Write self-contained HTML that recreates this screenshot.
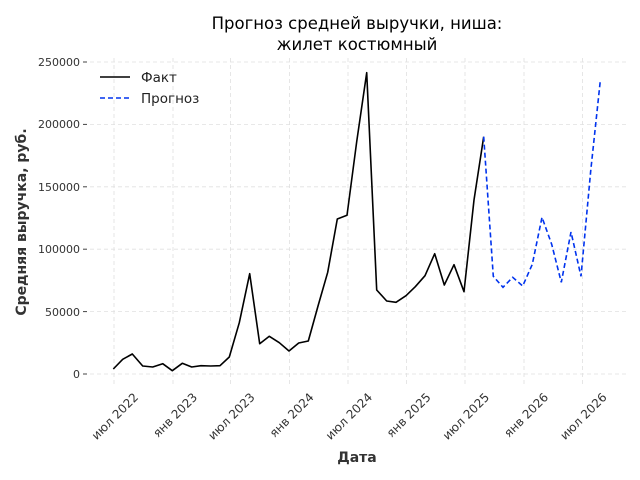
<!DOCTYPE html>
<html><head><meta charset="utf-8"><style>
html,body{margin:0;padding:0;background:#fff;}
svg{display:block;font-family:"DejaVu Sans","Liberation Sans",sans-serif;}
</style></head><body>
<svg width="640" height="480" viewBox="0 0 640 480">
<g stroke="#e0e0e0" stroke-width="0.8" stroke-dasharray="4,3" fill="none">
<line x1="90" x2="626" y1="374" y2="374"/>
<line x1="90" x2="626" y1="311.6" y2="311.6"/>
<line x1="90" x2="626" y1="249.2" y2="249.2"/>
<line x1="90" x2="626" y1="186.8" y2="186.8"/>
<line x1="90" x2="626" y1="124.4" y2="124.4"/>
<line x1="90" x2="626" y1="62" y2="62"/>
<line x1="114" x2="114" y1="58" y2="384"/>
<line x1="173" x2="173" y1="58" y2="384"/>
<line x1="230.5" x2="230.5" y1="58" y2="384"/>
<line x1="289.5" x2="289.5" y1="58" y2="384"/>
<line x1="348" x2="348" y1="58" y2="384"/>
<line x1="406.5" x2="406.5" y1="58" y2="384"/>
<line x1="465" x2="465" y1="58" y2="384"/>
<line x1="524" x2="524" y1="58" y2="384"/>
<line x1="582.5" x2="582.5" y1="58" y2="384"/>
</g>
<g stroke="#444" stroke-width="1">
<line x1="83" x2="87" y1="374" y2="374"/><line x1="83" x2="87" y1="311.6" y2="311.6"/><line x1="83" x2="87" y1="249.2" y2="249.2"/><line x1="83" x2="87" y1="186.8" y2="186.8"/><line x1="83" x2="87" y1="124.4" y2="124.4"/><line x1="83" x2="87" y1="62" y2="62"/>
</g>
<g font-size="11" fill="#333" text-anchor="end">
<text x="80" y="378">0</text><text x="80" y="316">50000</text><text x="80" y="253">100000</text><text x="80" y="191">150000</text><text x="80" y="128">200000</text><text x="80" y="66">250000</text>
</g>
<g font-size="12" fill="#333" text-anchor="end">
<text transform="translate(139,398) rotate(-45)">июл 2022</text>
<text transform="translate(198,398) rotate(-45)">янв 2023</text>
<text transform="translate(255.5,398) rotate(-45)">июл 2023</text>
<text transform="translate(314.5,398) rotate(-45)">янв 2024</text>
<text transform="translate(373,398) rotate(-45)">июл 2024</text>
<text transform="translate(431.5,398) rotate(-45)">янв 2025</text>
<text transform="translate(490,398) rotate(-45)">июл 2025</text>
<text transform="translate(549,398) rotate(-45)">янв 2026</text>
<text transform="translate(607.5,398) rotate(-45)">июл 2026</text>
</g>
<polyline fill="none" stroke="#000" stroke-width="1.6" stroke-linejoin="round" points="113.3,369 122.7,359.3 132.3,354 142.7,366 152.7,367 162.7,363.7 172.3,370.7 182.3,363.3 191.7,367 201,365.7 210.7,366 220,365.7 229.3,357 239.3,322.7 249.7,273.7 259.7,343.7 269.3,336.3 279.3,342.7 289,351 298.7,343 308.3,341 318.3,305 327.7,272.3 337.3,219 347,215.3 356.7,141.7 366.7,72.7 376.7,290 386.7,301 396,302.3 406,295.7 415.3,286.7 425,275.7 434.7,253.7 444.3,285 454,264.7 464,291.7 474,200 483.7,136.7"/>
<polyline fill="none" stroke="#0033ee" stroke-width="1.6" stroke-dasharray="5,3" points="483.7,136.7 493.3,276.3 503,287.3 512.7,277.3 522.7,286 532.3,264.3 542,217.3 551.7,244.3 561.3,282.3 571,232 581,276.3 590.7,171 600.3,80.7"/>
<line x1="100" x2="130" y1="77" y2="77" stroke="#000" stroke-width="1.6"/>
<line x1="100" x2="130" y1="98" y2="98" stroke="#0033ee" stroke-width="1.6" stroke-dasharray="5,3"/>
<text x="141" y="82" font-size="13.5" fill="#222">Факт</text>
<text x="141" y="103" font-size="13.5" fill="#222">Прогноз</text>
<text x="357" y="29" font-size="16.5" fill="#000" text-anchor="middle">Прогноз средней выручки, ниша:</text>
<text x="357" y="50" font-size="16.5" fill="#000" text-anchor="middle">жилет костюмный</text>
<text x="357" y="462" font-size="14" font-weight="bold" fill="#333" text-anchor="middle">Дата</text>
<text transform="translate(26,222) rotate(-90)" font-size="14" font-weight="bold" fill="#333" text-anchor="middle">Средняя выручка, руб.</text>
</svg>
</body></html>
